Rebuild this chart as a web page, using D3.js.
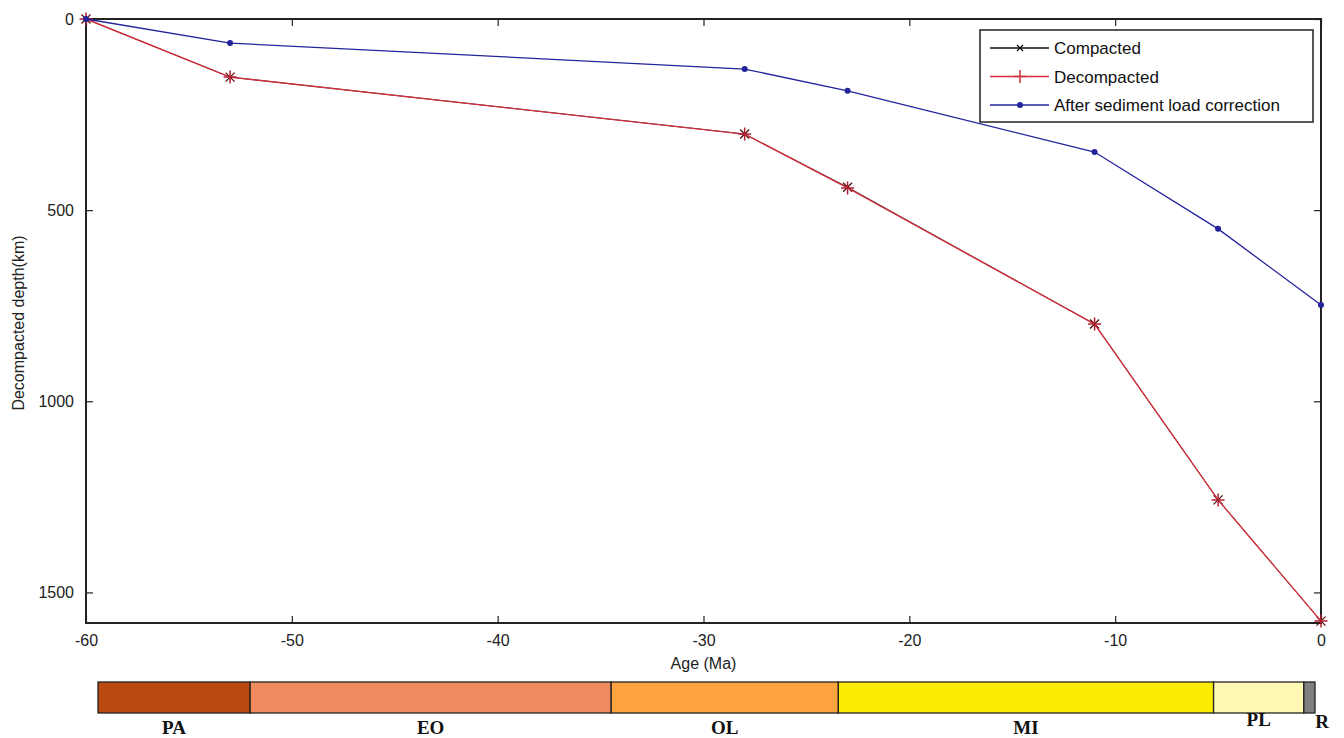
<!DOCTYPE html>
<html>
<head>
<meta charset="utf-8">
<script src="https://cdn.jsdelivr.net/npm/d3@7"></script>
<style>
  html, body { margin: 0; padding: 0; background: #fff; }
  svg { display: block; }
  .sans { font-family: Arial, "Liberation Sans", sans-serif; }
  .serif { font-family: "Liberation Serif", "Times New Roman", serif; font-weight: bold; }
</style>
</head>
<body>
<svg id="chart" width="1344" height="738"></svg>
<script>
// Burial history: age (Ma) vs depth
const ages = [-60, -53, -28, -23, -11, -5, 0];
const compacted = [0, 152, 301, 440, 798, 1258, 1575];
const decompacted = [0, 152, 301, 442, 798, 1258, 1575];
const loadCorrected = [0, 63, 131, 188, 348, 549, 748];

const xTicks = [-60, -50, -40, -30, -20, -10, 0];
const yTicks = [0, 500, 1000, 1500];

// Geological epochs for the time bar underneath
const epochNames = ["PA", "EO", "OL", "MI", "PL", "R"];
const epochStart = [-60, -52.5, -34.7, -23.5, -5.0, -0.55];
const epochEnd = [-52.5, -34.7, -23.5, -5.0, -0.55, 0];
const epochColors = ["#BB4912", "#EF8C5F", "#FCA23F", "#FAEC00", "#FFF8B4", "#808080"];
const epochLabelDy = [0, 0, 0, 0, -8, -6];

const svg = d3.select("#chart");
const plot = { left: 86, right: 1321, top: 19, bottom: 623 };

const x = d3.scaleLinear().domain([-60, 0]).range([plot.left, plot.right]);
const y = d3.scaleLinear().domain([0, 1580]).range([plot.top, plot.bottom]);

// Axes with inward ticks on all four sides
const fontSize = "16px";
const fmt = d => String(d);
function styleAxis(g) {
  g.select(".domain").remove();
  g.selectAll("line").attr("stroke", "#222").attr("stroke-width", 1.2);
  g.selectAll("text").attr("class", "sans").attr("font-size", fontSize).attr("fill", "#222");
}
svg.append("g").attr("transform", `translate(0,${plot.bottom})`)
  .call(d3.axisBottom(x).tickValues(xTicks).tickSize(-7).tickPadding(12).tickFormat(fmt))
  .call(styleAxis);
svg.append("g").attr("transform", `translate(0,${plot.top})`)
  .call(d3.axisTop(x).tickValues(xTicks).tickSize(-7).tickFormat(""))
  .call(styleAxis);
svg.append("g").attr("transform", `translate(${plot.left},0)`)
  .call(d3.axisLeft(y).tickValues(yTicks).tickSize(-7).tickPadding(12).tickFormat(fmt))
  .call(styleAxis);
svg.append("g").attr("transform", `translate(${plot.right},0)`)
  .call(d3.axisRight(y).tickValues(yTicks).tickSize(-7).tickFormat(""))
  .call(styleAxis);

svg.append("rect")
  .attr("x", plot.left).attr("y", plot.top)
  .attr("width", plot.right - plot.left).attr("height", plot.bottom - plot.top)
  .attr("fill", "none").attr("stroke", "#222").attr("stroke-width", 2);

// Axis titles
svg.append("text").attr("class", "sans").attr("x", (plot.left + plot.right) / 2).attr("y", 669)
  .attr("text-anchor", "middle").attr("font-size", fontSize).attr("fill", "#222")
  .text("Age (Ma)");
svg.append("text").attr("class", "sans").attr("transform", `translate(24,${(plot.top + plot.bottom) / 2 + 2}) rotate(-90)`)
  .attr("text-anchor", "middle").attr("font-size", fontSize).attr("fill", "#222")
  .text("Decompacted depth(km)");

// Series
const line = d3.line().x(d => x(d[0])).y(d => y(d[1]));
const zip = vals => ages.map((a, i) => [a, vals[i]]);

const colCompacted = "#111111";
const colDecompacted = "#D0303C";
const colLoad = "#23239C";

function crossMarker(g, cx, cy, s, color) {
  g.append("path").attr("d", `M${cx - s},${cy - s}L${cx + s},${cy + s}M${cx - s},${cy + s}L${cx + s},${cy - s}`)
    .attr("stroke", color).attr("stroke-width", 1.3).attr("fill", "none");
}
function plusMarker(g, cx, cy, s, color) {
  g.append("path").attr("d", `M${cx - s},${cy}L${cx + s},${cy}M${cx},${cy - s}L${cx},${cy + s}`)
    .attr("stroke", color).attr("stroke-width", 1.5).attr("fill", "none");
}
function dotMarker(g, cx, cy, r, color) {
  g.append("circle").attr("cx", cx).attr("cy", cy).attr("r", r).attr("fill", color);
}

const gSeries = svg.append("g");
gSeries.append("path").datum(zip(compacted)).attr("d", line)
  .attr("fill", "none").attr("stroke", colCompacted).attr("stroke-width", 0.9);
zip(compacted).forEach(d => crossMarker(gSeries, x(d[0]), y(d[1]), 4.5, "#5a1010"));
gSeries.append("path").datum(zip(decompacted)).attr("d", line)
  .attr("fill", "none").attr("stroke", colDecompacted).attr("stroke-width", 1.4);
zip(decompacted).forEach(d => plusMarker(gSeries, x(d[0]), y(d[1]), 6.5, "#B02030"));
gSeries.append("path").datum(zip(loadCorrected)).attr("d", line)
  .attr("fill", "none").attr("stroke", colLoad).attr("stroke-width", 1.3);
zip(loadCorrected).forEach(d => dotMarker(gSeries, x(d[0]), y(d[1]), 3, colLoad));

// Legend
const legend = svg.append("g");
legend.append("rect").attr("x", 980).attr("y", 30).attr("width", 333).attr("height", 92)
  .attr("fill", "#fff").attr("stroke", "#222").attr("stroke-width", 1.5);
const legendItems = [
  { label: "Compacted", color: colCompacted, mark: "x" },
  { label: "Decompacted", color: colDecompacted, mark: "+" },
  { label: "After sediment load correction", color: colLoad, mark: "." }
];
legendItems.forEach((it, i) => {
  const ly = 48 + i * 28.5;
  legend.append("line").attr("x1", 990).attr("x2", 1049).attr("y1", ly).attr("y2", ly)
    .attr("stroke", it.color).attr("stroke-width", 1.3);
  if (it.mark === "x") crossMarker(legend, 1020, ly, 3, it.color);
  if (it.mark === "+") plusMarker(legend, 1020, ly, 6.5, it.color);
  if (it.mark === ".") dotMarker(legend, 1020, ly, 3, it.color);
  legend.append("text").attr("class", "sans").attr("x", 1054).attr("y", ly + 6).attr("font-size", "17px")
    .attr("fill", "#111").text(it.label);
});

// Epoch bar
const xb = d3.scaleLinear().domain([-60, 0]).range([98, 1315]);
const bar = svg.append("g");
epochNames.forEach((name, i) => {
  bar.append("rect")
    .attr("x", xb(epochStart[i])).attr("y", 682)
    .attr("width", xb(epochEnd[i]) - xb(epochStart[i])).attr("height", 31)
    .attr("fill", epochColors[i]).attr("stroke", "#222").attr("stroke-width", 1.3);
  const cx = name === "R" ? 1322 : (xb(epochStart[i]) + xb(epochEnd[i])) / 2;
  bar.append("text").attr("class", "serif").attr("x", cx).attr("y", 734 + epochLabelDy[i])
    .attr("text-anchor", "middle").attr("font-size", "19px").attr("fill", "#111")
    .text(name);
});
</script>
</body>
</html>
